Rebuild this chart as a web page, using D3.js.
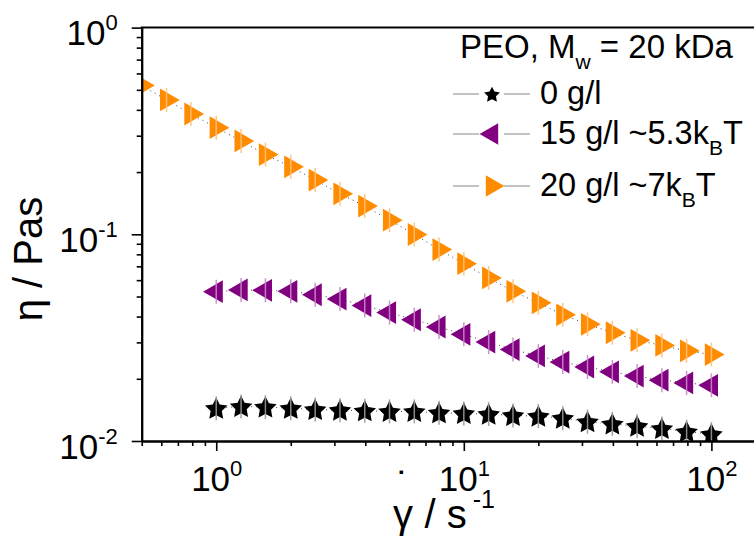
<!DOCTYPE html>
<html>
<head>
<meta charset="utf-8">
<script src="https://cdnjs.cloudflare.com/ajax/libs/d3/7.8.5/d3.min.js"></script>
<style>
  body { margin: 0; background: #fff; }
  svg { display: block; font-family: 'Liberation Sans', Arial, sans-serif; }
</style>
</head>
<body>
<svg id="chart" width="754" height="540"></svg>
<script>
// ── Data ──
const rate20 = [0.5, 0.63, 0.79, 1, 1.26, 1.58, 2, 2.51, 3.16, 3.98, 5.01, 6.31, 7.94,
  10, 12.6, 15.8, 20, 25.1, 31.6, 39.8, 50.1, 63.1, 79.4, 100];
const rate = [1, 1.26, 1.58, 2, 2.51, 3.16, 3.98, 5.01, 6.31, 7.94,
  10, 12.6, 15.8, 20, 25.1, 31.6, 39.8, 50.1, 63.1, 79.4, 100];

const eta0 = [0.0144, 0.0147, 0.0146, 0.0144, 0.0142, 0.0141, 0.0140, 0.0139, 0.0139, 0.0137,
  0.0136, 0.0135, 0.0133, 0.0132, 0.0129, 0.0124, 0.0121, 0.0118, 0.0115, 0.0111, 0.0108];
const eta15 = [0.0528, 0.0538, 0.0536, 0.0530, 0.0510, 0.0486, 0.0452, 0.0418, 0.0386, 0.0356,
  0.0328, 0.0301, 0.0277, 0.0258, 0.0241, 0.0228, 0.0216, 0.0206, 0.0197, 0.0191, 0.0186];
const eta20 = [0.524, 0.447, 0.382, 0.328, 0.283, 0.243, 0.212, 0.183, 0.157, 0.137, 0.117,
  0.0998, 0.0844, 0.0721, 0.0615, 0.0530, 0.0466, 0.0408, 0.0367, 0.0334, 0.0307, 0.0290, 0.0273, 0.0262];

const xMajor = [1, 10, 100];
const xMinor = [0.5, 0.6, 0.7, 0.8, 0.9, 2, 3, 4, 5, 6, 7, 8, 9, 20, 30, 40, 50, 60, 70, 80, 90];
const yMajor = [0.01, 0.1, 1];
const yMinor = [0.02, 0.03, 0.04, 0.05, 0.06, 0.07, 0.08, 0.09, 0.2, 0.3, 0.4, 0.5, 0.6, 0.7, 0.8, 0.9];

const series = [
  { label: ['0 g/l'], x: rate, y: eta0, color: '#000', err: '#9a9a9a', shape: 'star' },
  { label: ['15 g/l ~5.3k', 'B', 'T'], x: rate, y: eta15, color: '#800080', err: '#c58ac5', shape: 'left' },
  { label: ['20 g/l ~7k', 'B', 'T'], x: rate20, y: eta20, color: '#ff8c00', err: '#ffc27a', shape: 'right' }
];

// ── Layout ──
const L = 141.7, R = 755, T = 27.6, B = 441;
const svg = d3.select('#chart');
const x = d3.scaleLog().domain([0.5, 150]).range([L, R]);
const y = d3.scaleLog().domain([0.01, 1]).range([B, T]);

svg.append('defs').append('clipPath').attr('id', 'clip')
  .append('rect').attr('x', L).attr('y', T).attr('width', R - L).attr('height', B - T);

// fat five-point star (size = outer radius squared)
const fatStar = {
  draw(ctx, size) {
    const ro = Math.sqrt(size), ri = ro * 0.5;
    for (let k = 0; k < 10; k++) {
      const a = -Math.PI / 2 + k * Math.PI / 5, r = k % 2 ? ri : ro;
      if (k === 0) ctx.moveTo(r * Math.cos(a), r * Math.sin(a));
      else ctx.lineTo(r * Math.cos(a), r * Math.sin(a));
    }
    ctx.closePath();
  }
};

function markerPath(shape, big) {
  if (shape === 'star') return d3.symbol().type(fatStar).size(big ? 140 : 70)();
  return d3.symbol().type(d3.symbolTriangle).size(big ? 225 : 200)();
}
function rot(shape) { return shape === 'right' ? 90 : shape === 'left' ? -90 : 0; }

const plot = svg.append('g').attr('clip-path', 'url(#clip)');

series.forEach(s => {
  const pts = s.x.map((v, i) => [v, s.y[i]]);
  plot.append('path').datum(pts)
    .attr('fill', 'none').attr('stroke', '#444').attr('stroke-width', 1)
    .attr('stroke-dasharray', '1,4')
    .attr('d', d3.line().x(d => x(d[0])).y(d => y(d[1])));
});

series.forEach(s => {
  const pts = s.x.map((v, i) => [v, s.y[i]]);
  const g = plot.append('g');
  g.selectAll('path.m').data(pts).enter().append('path')
    .attr('d', markerPath(s.shape, true))
    .attr('fill', s.color)
    .attr('transform', d => `translate(${x(d[0])},${y(d[1]) + (s.shape === 'star' ? 1 : 0)}) rotate(${rot(s.shape)})`);
  g.selectAll('line.e').data(pts).enter().append('line')
    .attr('x1', d => x(d[0])).attr('x2', d => x(d[0]))
    .attr('y1', d => y(d[1]) - 12).attr('y2', d => y(d[1]) + 12)
    .attr('stroke', s.err).attr('stroke-width', 1.5).attr('opacity', 0.9);
});

// ── Axes ──
function styleAxis(g) {
  g.selectAll('path.domain').attr('stroke', '#000').attr('stroke-width', 2);
  g.selectAll('.tick line').attr('stroke', '#000').attr('stroke-width', 1.6);
}
function powLabel(d) { return Math.round(Math.log10(d)); }

const xAxis = svg.append('g').attr('transform', `translate(0,${B})`)
  .call(d3.axisBottom(x).tickValues(xMajor).tickSize(10).tickSizeOuter(0).tickFormat(''));
svg.append('g').attr('transform', `translate(0,${B})`)
  .call(d3.axisBottom(x).tickValues(xMinor).tickSize(5).tickSizeOuter(0).tickFormat(''))
  .call(styleAxis);
xAxis.call(styleAxis);
xAxis.selectAll('.tick text').each(function (d) {
  const t = d3.select(this).attr('y', 50).attr('dy', null)
    .attr('font-size', 35).attr('fill', '#000').attr('text-anchor', 'middle');
  t.append('tspan').text('10');
  t.append('tspan').text(powLabel(d)).attr('font-size', 22).attr('dy', -15);
});

const yAxis = svg.append('g').attr('transform', `translate(${L},0)`)
  .call(d3.axisLeft(y).tickValues(yMajor).tickSize(10).tickSizeOuter(0).tickFormat(''));
svg.append('g').attr('transform', `translate(${L},0)`)
  .call(d3.axisLeft(y).tickValues(yMinor).tickSize(5).tickSizeOuter(0).tickFormat(''))
  .call(styleAxis);
yAxis.call(styleAxis);
yAxis.selectAll('.tick text').each(function (d) {
  const t = d3.select(this).attr('x', -24).attr('dy', null).attr('y', 17)
    .attr('font-size', 35).attr('fill', '#000').attr('text-anchor', 'end');
  t.append('tspan').text('10');
  t.append('tspan').text(powLabel(d)).attr('font-size', 22).attr('dy', -15);
});

// top frame
svg.append('line').attr('x1', L - 1).attr('x2', R).attr('y1', T).attr('y2', T)
  .attr('stroke', '#000').attr('stroke-width', 2);

// ── Axis titles ──
svg.append('text').attr('transform', 'translate(42,259) rotate(-90)')
  .attr('text-anchor', 'middle').attr('font-size', 40).text('η / Pas');

const xt = svg.append('text').attr('x', 393).attr('y', 528).attr('font-size', 40);
xt.append('tspan').text('γ');
xt.append('tspan').text('˙').attr('dx', -16.5).attr('dy', -28);
xt.append('tspan').text(' / s').attr('dx', 3.5).attr('dy', 28);
xt.append('tspan').text('-1').attr('font-size', 25).attr('dx', 6).attr('dy', -20);

// ── Legend ──
const lg = svg.append('g');
const title = lg.append('text').attr('x', 460).attr('y', 58).attr('font-size', 33);
title.append('tspan').text('PEO, M');
title.append('tspan').text('w').attr('font-size', 21).attr('dy', 11);
title.append('tspan').text(' = 20 kDa').attr('dy', -11);

const rowY = [94, 134, 186];
series.forEach((s, i) => {
  const ry = rowY[i];
  lg.append('line').attr('x1', 453).attr('x2', 479).attr('y1', ry).attr('y2', ry)
    .attr('stroke', '#888').attr('stroke-width', 1);
  lg.append('line').attr('x1', 504).attr('x2', 530).attr('y1', ry).attr('y2', ry)
    .attr('stroke', '#888').attr('stroke-width', 1);
  lg.append('path').attr('d', markerPath(s.shape, false)).attr('fill', s.color)
    .attr('transform', `translate(492,${ry + (s.shape === 'star' ? 1 : 0)}) rotate(${rot(s.shape)})`);
  const t = lg.append('text').attr('x', 540).attr('y', ry + 10).attr('font-size', 32.5);
  t.append('tspan').text(s.label[0]);
  if (s.label.length > 1) {
    t.append('tspan').text(s.label[1]).attr('font-size', 21).attr('dy', 11);
    t.append('tspan').text(s.label[2]).attr('dy', -11);
  }
});
</script>
</body>
</html>
